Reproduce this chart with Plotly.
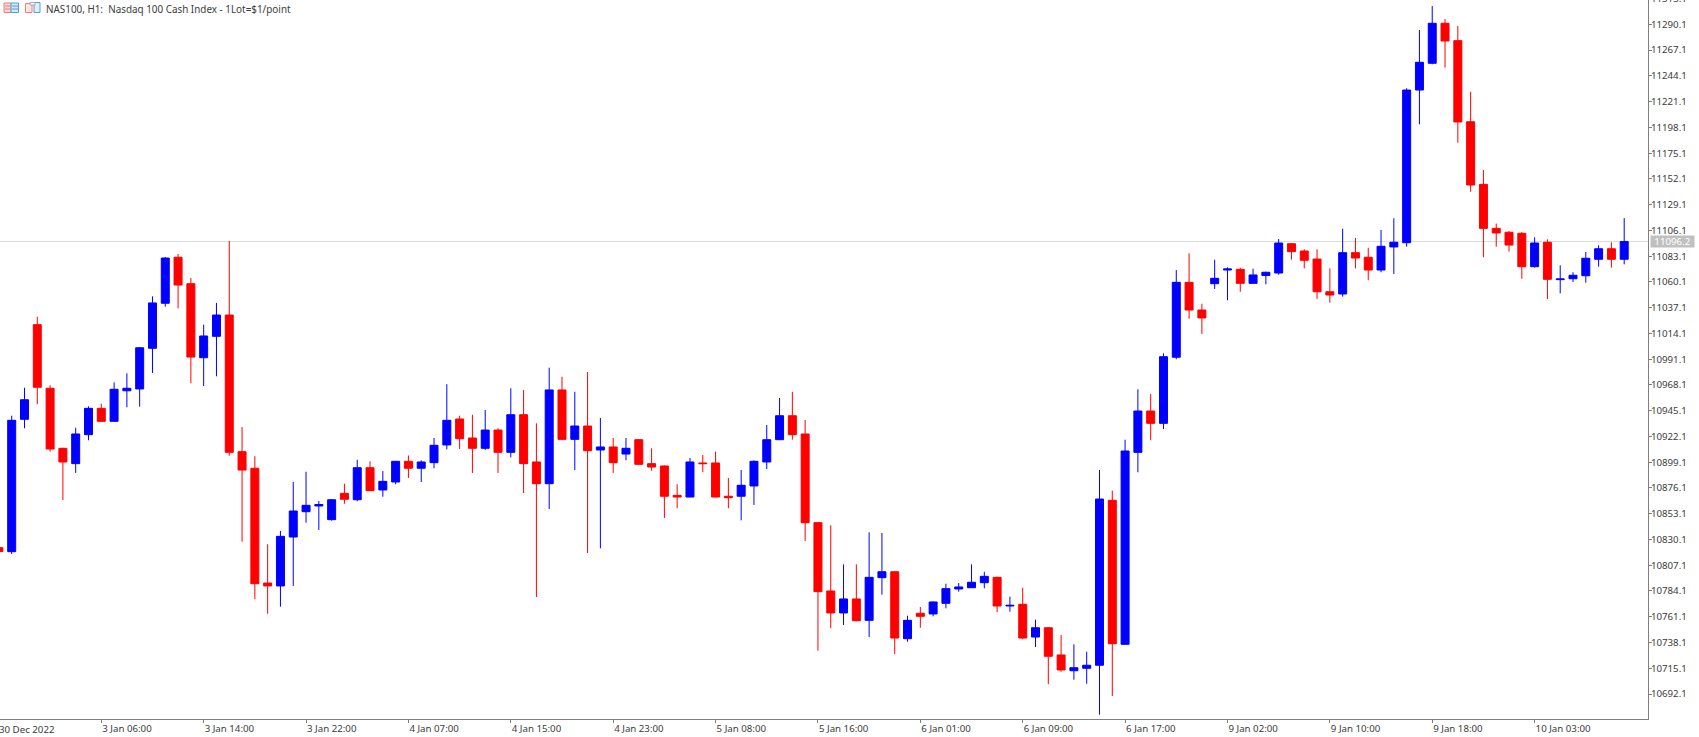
import plotly.graph_objects as go

title_text = "NAS100, H1:  Nasdaq 100 Cash Index - 1Lot=$1/point"
current_price = 11096.2
y_range = [10669.8, 11311.8]
y_ticks = [10692.1, 10715.1, 10738.1, 10761.1, 10784.1, 10807.1, 10830.1, 10853.1, 10876.1,
           10899.1, 10922.1, 10945.1, 10968.1, 10991.1, 11014.1, 11037.1, 11060.1, 11083.1,
           11106.1, 11129.1, 11152.1, 11175.1, 11198.1, 11221.1, 11244.1, 11267.1, 11290.1]
y_top_label = "11313.1"
x_labels = ["3 Jan 06:00", "3 Jan 14:00", "3 Jan 22:00", "4 Jan 07:00", "4 Jan 15:00", "4 Jan 23:00",
            "5 Jan 08:00", "5 Jan 16:00", "6 Jan 01:00", "6 Jan 09:00", "6 Jan 17:00", "9 Jan 02:00",
            "9 Jan 10:00", "9 Jan 18:00", "10 Jan 03:00"]
first_label = "30 Dec 2022"

opens = [10822.8, 10819.2, 10937.4, 11021.9, 10965.1, 10911.5, 10897.8, 10923.7, 10947.2, 10935.6,
         10962.9, 10964.5, 11000.8, 11041.0, 11082.1, 11058.5, 10992.4, 11011.5, 11030.5, 10908.5,
         10893.7, 10791.2, 10788.6, 10832.3, 10854.9, 10860.0, 10847.8, 10871.3, 10865.6, 10894.2,
         10874.3, 10881.4, 10899.9, 10893.7, 10898.7, 10914.5, 10937.7, 10920.7, 10911.5, 10927.8,
         10907.9, 10941.5, 10899.3, 10879.9, 10963.6, 10919.5, 10931.4, 10910.0, 10912.7, 10906.4,
         10919.2, 10897.8, 10895.7, 10869.5, 10868.0, 10898.4, 10898.4, 10868.7, 10868.7, 10877.9,
         10899.3, 10919.2, 10940.6, 10924.3, 10845.1, 10784.1, 10764.5, 10777.0, 10757.9, 10796.0,
         10801.3, 10741.5, 10764.2, 10763.6, 10773.1, 10785.9, 10787.0, 10791.5, 10796.3, 10770.7,
         10772.2, 10743.0, 10751.3, 10727.0, 10712.9, 10715.1, 10717.8, 10865.1, 10736.5, 10907.9,
         10944.8, 10933.8, 10992.8, 11059.7, 11035.0, 11058.5, 11070.7, 11071.3, 11058.8, 11065.8,
         11068.0, 11094.2, 11087.7, 11080.5, 11051.3, 11049.3, 11086.2, 11082.1, 11070.7, 11091.3,
         11095.1, 11231.4, 11255.3, 11291.0, 11275.5, 11203.1, 11147.2, 11107.9, 11104.4, 11103.5,
         11073.7, 11095.5, 11062.1, 11062.9, 11065.6, 11080.3, 11089.7, 11080.3]

closes = [10819.4, 10936.5, 10954.9, 10966.0, 10910.9, 10899.3, 10924.3, 10947.2, 10935.6, 10964.2,
          10965.1, 11001.3, 11041.3, 11081.4, 11057.3, 10993.0, 11011.8, 11030.5, 10907.9, 10892.1,
          10790.6, 10788.6, 10832.9, 10855.5, 10860.6, 10861.3, 10865.6, 10866.0, 10894.2, 10873.7,
          10882.0, 10899.9, 10893.7, 10899.3, 10914.2, 10936.5, 10920.1, 10911.5, 10927.8, 10907.9,
          10941.5, 10897.8, 10879.9, 10963.6, 10919.5, 10931.4, 10909.4, 10912.7, 10898.7, 10911.5,
          10897.2, 10894.8, 10868.7, 10868.0, 10899.3, 10897.8, 10868.0, 10867.4, 10878.5, 10899.9,
          10919.2, 10940.6, 10923.7, 10845.1, 10783.5, 10764.5, 10777.0, 10757.6, 10796.3, 10801.3,
          10742.1, 10757.9, 10761.5, 10774.3, 10786.2, 10787.7, 10791.9, 10797.2, 10770.7, 10771.3,
          10742.1, 10751.3, 10725.8, 10713.6, 10715.6, 10717.8, 10866.2, 10737.0, 10909.1, 10944.8,
          10933.8, 10993.3, 11059.7, 11035.0, 11027.9, 11063.3, 11071.6, 11058.8, 11066.3, 11068.7,
          11094.8, 11087.1, 11079.4, 11051.3, 11048.4, 11086.2, 11081.4, 11070.7, 11091.9, 11095.5,
          11231.4, 11256.2, 11291.0, 11275.2, 11202.9, 11146.6, 11107.9, 11103.8, 11093.0, 11073.7,
          11094.8, 11062.4, 11062.7, 11066.0, 11081.2, 11089.7, 11080.3, 11096.2]

highs = [10823.0, 10940.6, 10965.6, 11029.0, 10967.8, 10912.0, 10929.9, 10949.0, 10951.3, 10970.4,
         10978.5, 11002.0, 11047.2, 11082.3, 11085.0, 11063.6, 11021.9, 11041.3, 11096.6, 10930.5,
         10904.4, 10825.8, 10837.7, 10881.4, 10890.6, 10864.5, 10866.2, 10879.9, 10901.3, 10899.9,
         10891.2, 10900.2, 10905.1, 10900.8, 10920.7, 10968.7, 10940.6, 10941.5, 10945.7, 10929.4,
         10965.1, 10963.6, 10933.8, 10983.5, 10975.4, 10962.0, 10979.6, 10938.6, 10920.7, 10920.7,
         10919.8, 10911.5, 10896.3, 10879.4, 10902.8, 10905.5, 10908.5, 10885.0, 10892.1, 10900.8,
         10932.3, 10956.4, 10962.0, 10936.8, 10845.7, 10842.8, 10807.9, 10807.9, 10836.5, 10835.9,
         10802.0, 10762.0, 10769.8, 10774.9, 10790.6, 10791.2, 10807.9, 10801.3, 10796.9, 10779.0,
         10787.0, 10758.5, 10752.0, 10744.8, 10736.5, 10729.9, 10892.1, 10873.7, 10919.2, 10964.2,
         10960.0, 10996.3, 11070.7, 11085.6, 11040.6, 11079.9, 11073.1, 11072.8, 11071.9, 11069.2,
         11098.4, 11094.8, 11089.2, 11089.2, 11072.2, 11107.6, 11099.3, 11090.6, 11106.4, 11116.9,
         11233.0, 11285.0, 11306.4, 11294.8, 11288.6, 11229.9, 11160.0, 11112.1, 11105.5, 11104.6,
         11099.9, 11098.1, 11074.9, 11068.7, 11086.8, 11092.8, 11095.5, 11117.1]

lows = [10818.9, 10817.1, 10929.4, 10950.8, 10908.5, 10865.3, 10889.5, 10918.7, 10935.3, 10935.3,
        10948.1, 10948.7, 10978.8, 11037.9, 11036.5, 10969.6, 10967.1, 10975.8, 10904.9, 10828.1,
        10776.7, 10763.8, 10770.1, 10788.6, 10845.1, 10838.6, 10846.9, 10862.0, 10864.2, 10873.7,
        10868.3, 10879.4, 10885.0, 10881.4, 10893.7, 10910.6, 10910.9, 10889.5, 10910.0, 10889.5,
        10903.5, 10871.6, 10778.7, 10857.3, 10918.7, 10892.1, 10818.0, 10822.2, 10889.5, 10900.8,
        10896.9, 10891.5, 10849.3, 10857.9, 10867.8, 10890.1, 10867.8, 10857.9, 10847.2, 10860.9,
        10893.0, 10918.9, 10919.2, 10828.7, 10730.8, 10750.8, 10753.7, 10757.0, 10743.0, 10780.8,
        10727.8, 10738.8, 10751.3, 10761.5, 10768.6, 10783.5, 10786.8, 10786.5, 10765.1, 10765.6,
        10741.0, 10734.1, 10700.8, 10712.0, 10704.9, 10701.3, 10673.6, 10690.3, 10736.3, 10890.1,
        10918.7, 10928.7, 10991.0, 11027.2, 11013.6, 11053.8, 11043.7, 11051.3, 11058.5, 11057.9,
        11066.5, 11079.9, 11072.2, 11044.8, 11041.5, 11046.9, 11072.2, 11061.5, 11068.7, 11067.1,
        11091.5, 11200.8, 11254.4, 11251.4, 11184.4, 11140.6, 11082.1, 11091.5, 11087.1, 11062.9,
        11072.8, 11044.8, 11049.9, 11060.0, 11059.4, 11073.7, 11072.8, 11075.8]

BLUE = "#0000FF"
RED = "#FF0000"
AXIS = "#7F7F7F"
TEXT = "#3C3C3C"
FONT = "Noto Sans"
FONT_SIZE = 9.7
W, H = 1699, 737
R_PX, B_PX = 51, 18
PW, PH = W - R_PX, H - B_PX

bar_index = list(range(len(opens)))
x_ticks = list(range(8, 8 * (len(x_labels) + 1), 8))

fig = go.Figure(go.Candlestick(
    x=bar_index, open=opens, high=highs, low=lows, close=closes,
    increasing=dict(line=dict(color=BLUE, width=1), fillcolor=BLUE),
    decreasing=dict(line=dict(color=RED, width=1), fillcolor=RED),
    whiskerwidth=0, showlegend=False, hoverinfo="skip",
))

def px(x):
    return x / PW

def py(y):
    return 1 - y / PH

def rect(x0, y0, x1, y1, line, fill="rgba(0,0,0,0)"):
    return dict(type="rect", xref="paper", yref="paper", x0=px(x0), x1=px(x1), y0=py(y0), y1=py(y1),
                line=dict(color=line, width=1), fillcolor=fill, layer="above")

def hline(x0, x1, y, color):
    return dict(type="line", xref="paper", yref="paper", x0=px(x0), x1=px(x1), y0=py(y), y1=py(y),
                line=dict(color=color, width=1), layer="above")

ICON_RED = "#F47C74"
ICON_BLUE = "#4F9FD8"
shapes = [
    dict(type="line", xref="paper", yref="y", x0=0, x1=1, y0=current_price, y1=current_price,
         line=dict(color="#DCDCDC", width=1), layer="below"),
    # window icons beside the title
    rect(4, 3, 11, 12.5, ICON_RED, "#FBD9D6"),
    rect(11, 3, 18.5, 12.5, ICON_BLUE, "#D3E7F5"),
    hline(5, 10, 6, ICON_RED), hline(5, 10, 9, ICON_RED),
    hline(12, 18, 6, ICON_BLUE), hline(12, 18, 9, ICON_BLUE),
    rect(25.5, 3.5, 32, 12.5, ICON_RED, "#FBE6E4"),
    rect(34, 2.5, 40, 12.5, ICON_BLUE, "#E1EFF8"),
    rect(30, 2.5, 35, 5, "#A8A8A8", "#FFFFFF"),
]

annotations = [
    dict(text=title_text, xref="paper", yref="paper", x=px(43.5), y=py(8.5), xanchor="left", yanchor="middle",
         showarrow=False, font=dict(family=FONT, size=9.9, color=TEXT)),
    dict(text=f"{current_price}", xref="paper", yref="y", x=1, y=current_price, xanchor="left", yanchor="middle",
         xshift=2, width=43, height=11, align="center", borderpad=0, showarrow=False, bgcolor="#C0C0C0",
         font=dict(family=FONT, size=FONT_SIZE, color="#FFFFFF")),
    dict(text=y_top_label, xref="paper", yref="paper", x=1, y=1, xanchor="left", yanchor="middle",
         xshift=1, yshift=2, showarrow=False, font=dict(family=FONT, size=FONT_SIZE, color=TEXT)),
    dict(text=first_label, xref="paper", yref="paper", x=0, y=0, xanchor="left", yanchor="top",
         yshift=-2, xshift=-3, showarrow=False, font=dict(family=FONT, size=FONT_SIZE, color=TEXT)),
]

fig.update_layout(
    width=W, height=H, margin=dict(l=0, r=R_PX, t=0, b=B_PX),
    paper_bgcolor="#FFFFFF", plot_bgcolor="#FFFFFF",
    shapes=shapes, annotations=annotations, hovermode=False,
    boxgap=0.22, boxgroupgap=0.2,
    font=dict(family=FONT, size=FONT_SIZE, color=TEXT),
    xaxis=dict(range=[0.086, 128.86], rangeslider=dict(visible=False), showgrid=False, zeroline=False,
               tickmode="array", tickvals=x_ticks, ticktext=x_labels, ticks="outside", ticklen=3,
               tickcolor=AXIS, showline=True, linecolor=AXIS, linewidth=1,
               ticklabelposition="outside right", tickfont=dict(family=FONT, size=FONT_SIZE, color=TEXT)),
    yaxis=dict(range=y_range, side="right", showgrid=False, zeroline=False, tickmode="array",
               tickvals=y_ticks, ticktext=[f"{v:.1f}" for v in y_ticks], ticks="outside", ticklen=3,
               ticklabelstandoff=-3,
               tickcolor=AXIS, showline=True, linecolor=AXIS, linewidth=1,
               tickfont=dict(family=FONT, size=FONT_SIZE, color=TEXT)),
)

fig.write_html("out.html", config=dict(displayModeBar=False),
               post_script="document.documentElement.style.overflow='hidden';document.body.style.margin='0';")
